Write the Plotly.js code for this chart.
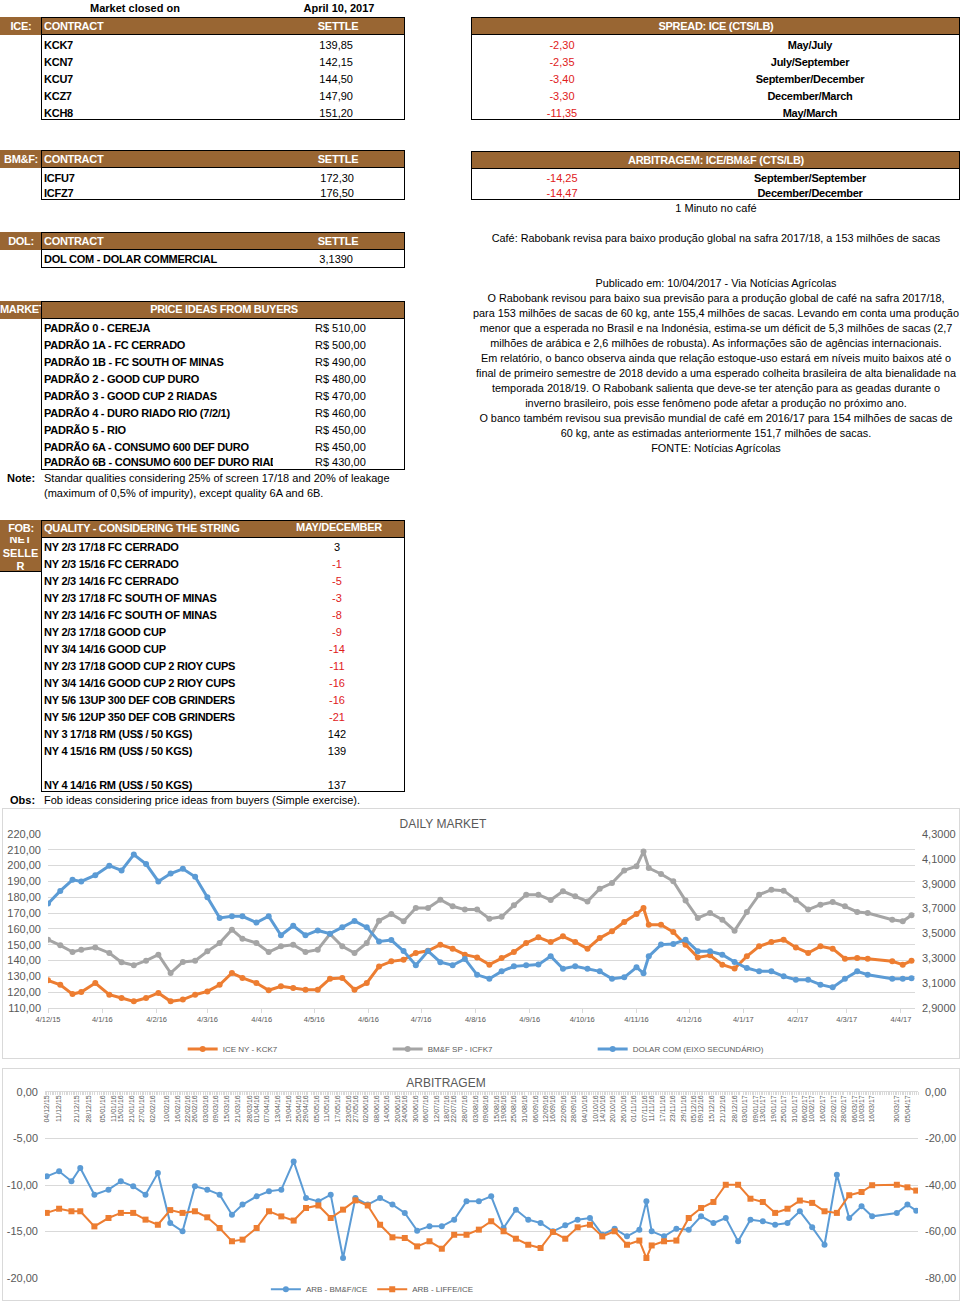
<!DOCTYPE html>
<html>
<head>
<meta charset="utf-8">
<script src="https://cdn.plot.ly/plotly-3.0.1.min.js"></script>
<style>
  body { margin: 0; background: #fff; font-family: "Liberation Sans", Arial, sans-serif; }
  #page { position: relative; width: 961px; height: 1303px; overflow: hidden; }
  .t { position: absolute; white-space: nowrap; font-size: 11px; line-height: 14px; height: 14px; }
  .r { position: absolute; box-sizing: border-box; }
  .chart { position: absolute; border: 1px solid #d9d9d9; box-sizing: border-box; }
</style>
</head>
<body>
<div id="page">
  <div id="dailyChart" class="chart" style="left:2px;top:808px;width:958px;height:251px"></div>
  <div id="arbChart" class="chart" style="left:2px;top:1068px;width:958px;height:233px"></div>
</div>
<script>
// ---- tabelas ----
const iceContracts = ['KCK7', 'KCN7', 'KCU7', 'KCZ7', 'KCH8'];
const iceSettles = [139.85, 142.15, 144.50, 147.90, 151.20];
const spreadValues = [-2.30, -2.35, -3.40, -3.30, -11.35];
const spreadLabels = ['May/July', 'July/September', 'September/December', 'December/March', 'May/March'];
const bmfContracts = ['ICFU7', 'ICFZ7'];
const bmfSettles = [172.30, 176.50];
const arbValues = [-14.25, -14.47];
const arbLabels = ['September/September', 'December/December'];
const dolContracts = ['DOL COM - DOLAR COMMERCIAL'];
const dolSettles = [3.1390];
const padroes = [
    'PADRÃO 0 - CEREJA', 'PADRÃO 1A - FC CERRADO', 'PADRÃO 1B - FC SOUTH OF MINAS',
    'PADRÃO 2 - GOOD CUP DURO', 'PADRÃO 3 - GOOD CUP 2 RIADAS', 'PADRÃO 4 - DURO RIADO RIO (7/2/1)',
    'PADRÃO 5 - RIO', 'PADRÃO 6A - CONSUMO 600 DEF DURO', 'PADRÃO 6B - CONSUMO 600 DEF DURO RIADO'
];
const padraoPrices = [510, 500, 490, 480, 470, 460, 450, 450, 430];
const fobQualities = [
    'NY 2/3 17/18 FC CERRADO', 'NY 2/3 15/16 FC CERRADO', 'NY 2/3 14/16 FC CERRADO',
    'NY 2/3 17/18 FC SOUTH OF MINAS', 'NY 2/3 14/16 FC SOUTH OF MINAS', 'NY 2/3 17/18 GOOD CUP',
    'NY 3/4 14/16 GOOD CUP', 'NY 2/3 17/18 GOOD CUP 2 RIOY CUPS', 'NY 3/4 14/16 GOOD CUP 2 RIOY CUPS',
    'NY 5/6 13UP 300 DEF COB GRINDERS', 'NY 5/6 12UP 350 DEF COB GRINDERS', 'NY 3 17/18 RM (US$ / 50 KGS)',
    'NY 4 15/16 RM (US$ / 50 KGS)', '', 'NY 4 14/16 RM (US$ / 50 KGS)'
];
const fobValues = [3, -1, -5, -3, -8, -9, -14, -11, -16, -16, -21, 142, 139, null, 137];
const newsTitle = 'Café: Rabobank revisa para baixo produção global na safra 2017/18, a 153 milhões de sacas';
const newsLines = [
    'Publicado em: 10/04/2017  -  Via Notícias Agrícolas',
    'O Rabobank revisou para baixo sua previsão para a produção global de café na safra 2017/18,',
    'para 153 milhões de sacas de 60 kg, ante 155,4 milhões de sacas. Levando em conta uma produção',
    'menor que a esperada no Brasil e na Indonésia, estima-se um déficit de 5,3 milhões de sacas (2,7',
    'milhões de arábica e 2,6 milhões de robusta). As informações são de agências internacionais.',
    'Em relatório, o banco observa ainda que relação estoque-uso estará em níveis muito baixos até o',
    'final de primeiro semestre de 2018 devido a uma esperado colheita brasileira de alta bienalidade na',
    'temporada 2018/19. O Rabobank salienta que deve-se ter atenção para as geadas durante o',
    'inverno brasileiro, pois esse fenômeno pode afetar a produção no próximo ano.',
    'O banco também revisou sua previsão mundial de café em 2016/17 para 154 milhões de sacas de',
    '60 kg, ante as estimadas anteriormente 151,7 milhões de sacas.',
    'FONTE: Notícias Agrícolas'
];

// ---- séries (leitura semanal do gráfico) ----
const dates = [
    '2015-12-04', '2015-12-11', '2015-12-18', '2015-12-23', '2015-12-31', '2016-01-08', '2016-01-15', '2016-01-22', '2016-01-29', '2016-02-05',
    '2016-02-12', '2016-02-19', '2016-02-26', '2016-03-04', '2016-03-11', '2016-03-18', '2016-03-24', '2016-04-01', '2016-04-08', '2016-04-15',
    '2016-04-22', '2016-04-29', '2016-05-06', '2016-05-13', '2016-05-20', '2016-05-27', '2016-06-03', '2016-06-10', '2016-06-17', '2016-06-24',
    '2016-07-01', '2016-07-08', '2016-07-15', '2016-07-22', '2016-07-29', '2016-08-05', '2016-08-12', '2016-08-19', '2016-08-26', '2016-09-02',
    '2016-09-09', '2016-09-16', '2016-09-23', '2016-09-30', '2016-10-07', '2016-10-14', '2016-10-21', '2016-10-28', '2016-11-04', '2016-11-08',
    '2016-11-11', '2016-11-18', '2016-11-25', '2016-12-02', '2016-12-09', '2016-12-16', '2016-12-23', '2016-12-30', '2017-01-06', '2017-01-13',
    '2017-01-20', '2017-01-27', '2017-02-03', '2017-02-10', '2017-02-17', '2017-02-24', '2017-03-03', '2017-03-10', '2017-03-16', '2017-03-30',
    '2017-04-05', '2017-04-10'
];
const iceKC = [
    127.5, 124.7, 118.8, 120.1, 125.8, 118.4, 116.3, 114.2, 116.3, 119.5,
    114.2, 115.3, 118.4, 120.5, 124.7, 132.1, 129.0, 125.8, 121.2, 123.7,
    122.6, 121.6, 121.6, 128.5, 129.0, 121.6, 125.8, 136.3, 139.5, 140.5,
    144.8, 146.2, 150.0, 147.5, 143.7, 142.0, 137.4, 141.6, 145.4, 151.1,
    154.7, 151.7, 155.3, 151.7, 147.5, 154.2, 158.5, 164.4, 169.4, 173.2,
    162.7, 162.7, 158.0, 150.0, 142.0, 143.3, 137.4, 134.9, 142.7, 149.0,
    151.7, 153.2, 148.3, 144.8, 149.0, 147.5, 141.2, 141.6, 141.2, 139.5,
    137.4, 139.85
];
const bmfKC = [
    153.2, 149.6, 145.4, 146.9, 148.3, 144.8, 138.9, 137.0, 139.9, 143.7,
    132.1, 139.1, 139.9, 145.8, 151.1, 159.5, 153.8, 151.1, 145.4, 149.0,
    150.0, 145.4, 146.9, 156.8, 149.0, 144.8, 151.1, 165.2, 169.4, 164.8,
    173.2, 173.2, 178.5, 174.3, 172.2, 172.2, 166.5, 167.7, 174.9, 181.6,
    181.6, 178.3, 183.8, 180.6, 177.4, 185.4, 189.0, 197.0, 199.6, 209.0,
    198.5, 194.7, 190.1, 177.9, 166.9, 170.1, 165.8, 158.9, 170.7, 181.6,
    184.8, 184.2, 178.5, 172.2, 175.3, 177.0, 174.3, 170.7, 170.0, 165.8,
    164.8, 168.6
];
const dolar = [
    3.740, 3.842, 3.931, 3.918, 3.969, 4.045, 4.007, 4.135, 4.058, 3.918,
    3.982, 4.020, 3.956, 3.791, 3.625, 3.638, 3.638, 3.587, 3.638, 3.485,
    3.562, 3.485, 3.524, 3.498, 3.549, 3.600, 3.549, 3.435, 3.447, 3.358,
    3.244, 3.358, 3.269, 3.244, 3.295, 3.167, 3.136, 3.195, 3.235, 3.243,
    3.249, 3.316, 3.216, 3.235, 3.216, 3.195, 3.136, 3.147, 3.227, 3.180,
    3.316, 3.410, 3.415, 3.450, 3.356, 3.356, 3.329, 3.270, 3.222, 3.195,
    3.195, 3.155, 3.128, 3.128, 3.088, 3.066, 3.136, 3.195, 3.168, 3.136,
    3.136, 3.139
];
const arbBmf = [
    -9.07, -8.53, -9.61, -8.17, -11.04, -10.50, -9.61, -10.14, -11.04, -8.71,
    -14.09, -14.98, -10.14, -10.50, -11.04, -13.19, -12.11, -11.22, -10.68, -10.50,
    -7.46, -11.40, -11.76, -11.04, -17.85, -11.40, -12.11, -11.40, -12.11, -13.01,
    -14.91, -14.44, -14.44, -13.73, -11.76, -11.76, -11.22, -14.62, -12.65, -13.73,
    -14.09, -14.98, -14.34, -13.73, -13.55, -15.34, -14.70, -15.52, -14.80, -11.76,
    -14.98, -15.52, -14.70, -14.80, -13.37, -14.09, -13.55, -16.06, -13.73, -13.91,
    -14.27, -14.09, -12.83, -14.55, -16.42, -8.89, -13.55, -12.29, -13.37, -13.01,
    -12.11, -12.76
];
const arbLiffe = [
    -52.0, -50.2, -51.3, -51.3, -57.8, -54.2, -52.0, -52.0, -54.9, -57.1,
    -50.8, -52.0, -51.3, -53.9, -58.5, -64.2, -63.5, -58.5, -51.3, -53.5,
    -55.3, -49.9, -48.8, -54.2, -50.6, -46.6, -48.8, -57.1, -62.5, -62.8,
    -66.4, -64.2, -67.4, -61.4, -61.4, -59.2, -55.6, -59.9, -63.1, -65.7,
    -67.1, -60.2, -63.1, -58.2, -57.1, -62.1, -59.9, -65.7, -63.9, -71.4,
    -66.0, -64.2, -63.9, -54.2, -49.9, -47.3, -39.9, -39.9, -45.9, -47.3,
    -52.0, -50.2, -46.7, -47.7, -51.3, -52.0, -44.4, -43.0, -40.1, -39.9,
    -41.0, -42.4
];
const arbTickLabels = [
    '04/12/15', '11/12/15', '21/12/15', '28/12/15', '05/01/16', '11/01/16', '15/01/16', '21/01/16', '27/01/16', '02/02/16',
    '10/02/16', '16/02/16', '22/02/16', '26/02/16', '03/03/16', '09/03/16', '15/03/16', '21/03/16', '28/03/16', '01/04/16',
    '07/04/16', '13/04/16', '19/04/16', '25/04/16', '29/04/16', '05/05/16', '11/05/16', '17/05/16', '23/05/16', '27/05/16',
    '02/06/16', '08/06/16', '14/06/16', '20/06/16', '24/06/16', '30/06/16', '06/07/16', '12/07/16', '18/07/16', '22/07/16',
    '28/07/16', '03/08/16', '09/08/16', '15/08/16', '19/08/16', '25/08/16', '31/08/16', '06/09/16', '12/09/16', '16/09/16',
    '22/09/16', '28/09/16', '04/10/16', '10/10/16', '14/10/16', '20/10/16', '26/10/16', '01/11/16', '07/11/16', '11/11/16',
    '17/11/16', '23/11/16', '29/11/16', '05/12/16', '09/12/16', '15/12/16', '21/12/16', '28/12/16', '03/01/17', '09/01/17',
    '13/01/17', '19/01/17', '25/01/17', '31/01/17', '06/02/17', '10/02/17', '16/02/17', '22/02/17', '28/02/17', '06/03/17',
    '10/03/17', '16/03/17', '30/03/17', '05/04/17'
];
const arbLeftTicks = [0, -5, -10, -15, -20];
const arbRightTicks = [0, -20, -40, -60, -80];

// ---- helpers ----
const page = document.getElementById('page');
const BROWN = '#996633';
const RED = '#e0201b';

function num(v, d) {
    return v.toFixed(d).replace('.', ',');
}

function txt(s, x, y, o = {}) {
    const d = document.createElement('div');
    d.className = 't';
    d.textContent = s;
    d.style.top = (y - 7) + 'px';
    if (o.size) d.style.fontSize = o.size + 'px';
    if (o.bold) d.style.fontWeight = 'bold';
    if (o.ls) d.style.letterSpacing = o.ls + 'px';
    if (o.color) d.style.color = o.color;
    if (o.align === 'center') {
        d.style.left = (x - 300) + 'px';
        d.style.width = '600px';
        d.style.textAlign = 'center';
    } else if (o.align === 'right') {
        d.style.right = (961 - x) + 'px';
    } else {
        d.style.left = x + 'px';
    }
    if (o.clip) { d.style.width = o.clip + 'px'; d.style.overflow = 'hidden'; }
    page.appendChild(d);
    return d;
}

function rect(x, y, w, h, css) {
    const d = document.createElement('div');
    d.className = 'r';
    d.style.cssText += `left:${x}px;top:${y}px;width:${w}px;height:${h}px;` + css;
    page.appendChild(d);
    return d;
}

// bloco com cabeçalho marrom e corpo com borda preta
function block(x0, x1, y0, hdrH, y1, leftCell) {
    rect(leftCell ? 0 : x0, y0, x1 - (leftCell ? 0 : x0), hdrH, `background:${BROWN}`);
    rect(x0, y0, x1 - x0, y1 - y0, 'border:1px solid #000');
    rect(x0, y0 + hdrH - 1, x1 - x0, 1, 'background:#000');
}

const W = { bold: true, color: '#fff', ls: -0.3 };
const B = { bold: true, ls: -0.25 };

// topo
txt('Market closed on', 135, 8, { align: 'center', bold: true });
txt('April 10, 2017', 339, 8, { align: 'center', bold: true });

// ICE
block(41, 405, 17, 18, 120, true);
txt('ICE:', 21, 26, { ...W, align: 'center' });
txt('CONTRACT', 44, 26, W);
txt('SETTLE', 338, 26, { ...W, align: 'center' });
iceContracts.forEach((c, i) => {
    txt(c, 44, 45 + 17 * i, B);
    txt(num(iceSettles[i], 2), 353, 45 + 17 * i, { align: 'right' });
});

// spread
block(471, 960, 17, 18, 120, false);
txt('SPREAD: ICE (CTS/LB)', 716, 26, { ...W, align: 'center' });
spreadValues.forEach((v, i) => {
    txt(num(v, 2), 562, 45 + 17 * i, { align: 'center', color: RED });
    txt(spreadLabels[i], 810, 45 + 17 * i, { ...B, align: 'center' });
});

// BM&F
block(41, 405, 150, 18, 200, true);
txt('BM&F:', 21, 159, { ...W, align: 'center' });
txt('CONTRACT', 44, 159, W);
txt('SETTLE', 338, 159, { ...W, align: 'center' });
bmfContracts.forEach((c, i) => {
    txt(c, 44, 178 + 15 * i, B);
    txt(num(bmfSettles[i], 2), 354, 178 + 15 * i, { align: 'right' });
});

// arbitragem
block(471, 960, 151, 18, 200, false);
txt('ARBITRAGEM: ICE/BM&F (CTS/LB)', 716, 160, { ...W, align: 'center' });
arbValues.forEach((v, i) => {
    txt(num(v, 2), 562, 178 + 15 * i, { align: 'center', color: RED });
    txt(arbLabels[i], 810, 178 + 15 * i, { ...B, align: 'center' });
});
txt('1 Minuto no café', 716, 208, { align: 'center' });

// DOL
block(41, 405, 232, 18, 268, true);
txt('DOL:', 21, 241, { ...W, align: 'center' });
txt('CONTRACT', 44, 241, W);
txt('SETTLE', 338, 241, { ...W, align: 'center' });
dolContracts.forEach((c, i) => {
    txt(c, 44, 259, B);
    txt(num(dolSettles[i], 4), 353, 259, { align: 'right' });
});

// notícia
txt(newsTitle, 716, 238, { align: 'center', size: 10.85 });
newsLines.forEach((l, i) => txt(l, 716, 283 + 15 * i, { align: 'center', size: 10.85 }));

// price ideas
block(41, 405, 301, 18, 470, true);
txt('MARKET', 0, 309, { ...W, clip: 41 });
txt('PRICE IDEAS FROM BUYERS', 224, 309, { ...W, align: 'center' });
padroes.forEach((p, i) => {
    const y = Math.min(328 + 17 * i, 462);
    txt(p, 44, y, { ...B, clip: 229 });
    txt('R$ ' + num(padraoPrices[i], 2), 315, y);
});
txt('Note:', 7, 478, { bold: true });
txt('Standar qualities considering 25% of screen 17/18 and 20% of leakage', 44, 478);
txt('(maximum of 0,5% of impurity), except quality 6A and 6B.', 44, 493);

// FOB
block(41, 405, 520, 18, 792, true);
txt('FOB:', 21, 528, { ...W, align: 'center' });
txt('QUALITY - CONSIDERING THE STRING', 44, 528, W);
txt('MAY/DECEMBER', 339, 527, { ...W, align: 'center' });
const net = rect(0, 537, 41, 35, `background:${BROWN};border-bottom:1px solid #000;overflow:hidden`);
net.innerHTML = '<div style="margin-top:-4px;width:41px;text-align:center;color:#fff;font-weight:bold;font-size:11px;line-height:13.5px;overflow-wrap:anywhere">NET SELLER</div>';
fobQualities.forEach((q, i) => {
    const y = 547 + 17 * i;
    if (q) txt(q, 44, y, B);
    if (fobValues[i] !== null) {
        txt(String(fobValues[i]), 337, y, { align: 'center', color: fobValues[i] < 0 ? RED : '#000' });
    }
});
txt('Obs:', 10, 800, { bold: true });
txt('Fob ideas considering price ideas from buyers (Simple exercise).', 44, 800);

// ---- gráficos ----
const chartFont = { family: '"Liberation Sans", Arial, sans-serif', size: 11, color: '#595959' };
const cfg = { displayModeBar: false, staticPlot: true };

const dailyData = [
    { x: dates, y: iceKC, name: 'ICE NY - KCK7', type: 'scatter', mode: 'lines+markers',
      line: { color: '#ED7D31', width: 3 }, marker: { color: '#ED7D31', size: 6 } },
    { x: dates, y: bmfKC, name: 'BM&F SP - ICFK7', type: 'scatter', mode: 'lines+markers',
      line: { color: '#A5A5A5', width: 3 }, marker: { color: '#A5A5A5', size: 6 } },
    { x: dates, y: dolar, name: 'DOLAR COM (EIXO SECUNDÁRIO)', type: 'scatter', mode: 'lines+markers', yaxis: 'y2',
      line: { color: '#5B9BD5', width: 3 }, marker: { color: '#5B9BD5', size: 6 } }
];

const dailyLayout = {
    width: 956, height: 249,
    margin: { l: 45, r: 44, t: 25, b: 50, autoexpand: false },
    separators: ',.',
    font: chartFont,
    paper_bgcolor: '#fff', plot_bgcolor: '#fff',
    title: { text: 'DAILY MARKET', font: { size: 12, color: '#595959' },
             xref: 'container', yref: 'container', x: 440 / 956, xanchor: 'center', y: 1 - 15 / 249, yanchor: 'middle' },
    xaxis: { type: 'date', range: ['2015-12-04', '2017-04-12'], tick0: '2015-12-04', dtick: 'M1',
             tickformat: '%-d/%-m/%y', tickfont: { size: 7.5, color: '#595959' },
             showgrid: false, showline: true, linecolor: '#d9d9d9', ticks: 'outside', ticklen: 4,
             tickcolor: '#d9d9d9', zeroline: false },
    yaxis: { range: [110, 220], tick0: 110, dtick: 10, tickformat: '.2f', gridcolor: '#d9d9d9',
             zeroline: false, ticklabelstandoff: 6 },
    yaxis2: { overlaying: 'y', side: 'right', range: [2.9, 4.3], tick0: 2.9, dtick: 0.2, tickformat: '.4f',
              showgrid: false, zeroline: false, ticklabelstandoff: 6 },
    legend: { orientation: 'h', x: 0.51, xanchor: 'center', y: -0.236, yanchor: 'middle',
              font: { size: 8, color: '#595959' }, entrywidth: 160 }
};

Plotly.newPlot('dailyChart', dailyData, dailyLayout, cfg);

// converter dd/mm/yy para data ISO
const arbTickDates = arbTickLabels.map(s => {
    const [d, m, y] = s.split('/');
    return `20${y}-${m}-${d}`;
});

const arbRange = ['2015-12-03', '2017-04-11'];

const arbData = [
    { x: dates, y: arbBmf, name: 'ARB - BM&F/ICE', type: 'scatter', mode: 'lines+markers',
      line: { color: '#5B9BD5', width: 2 }, marker: { color: '#5B9BD5', size: 6, symbol: 'circle' } },
    { x: dates, y: arbLiffe, name: 'ARB - LIFFE/ICE', type: 'scatter', mode: 'lines+markers',
      xaxis: 'x2', yaxis: 'y2',
      line: { color: '#ED7D31', width: 2 }, marker: { color: '#ED7D31', size: 6, symbol: 'square' } }
];

const arbLayout = {
    width: 956, height: 231,
    margin: { l: 42, r: 41, t: 23, b: 22, autoexpand: false },
    font: chartFont,
    paper_bgcolor: '#fff', plot_bgcolor: '#fff',
    title: { text: 'ARBITRAGEM', font: { size: 12, color: '#595959' },
             xref: 'container', yref: 'container', x: 443 / 956, xanchor: 'center', y: 1 - 14 / 231, yanchor: 'middle' },
    // eixo principal: só a linha do zero com as marcas
    xaxis: { type: 'date', side: 'top', range: arbRange, showticklabels: false,
             showgrid: false, showline: true, linecolor: '#d9d9d9', ticks: '', zeroline: false,
             minor: { ticks: 'inside', ticklen: 3, tickcolor: '#d9d9d9', tick0: '2015-12-04', dtick: 86400000, showgrid: false } },
    // eixo dos rótulos, logo abaixo da linha do zero
    xaxis2: { type: 'date', overlaying: 'x', anchor: 'free', position: 0.995, side: 'bottom', range: arbRange,
              tickmode: 'array', tickvals: arbTickDates, ticktext: arbTickLabels,
              tickangle: -90, tickfont: { size: 7, color: '#595959' },
              showgrid: false, showline: false, ticks: '', zeroline: false },
    yaxis: { range: [-20, 0], tickmode: 'array', tickvals: arbLeftTicks, ticktext: arbLeftTicks.map(v => num(v, 2)),
             gridcolor: '#d9d9d9', zeroline: false, ticklabelstandoff: 6 },
    yaxis2: { overlaying: 'y', side: 'right', range: [-80, 0], tickmode: 'array', tickvals: arbRightTicks,
              ticktext: arbRightTicks.map(v => num(v, 2)), showgrid: false, zeroline: false, ticklabelstandoff: 6 },
    legend: { orientation: 'h', x: 0.375, xanchor: 'center', y: -0.06, yanchor: 'middle',
              font: { size: 8, color: '#595959' } }
};

Plotly.newPlot('arbChart', arbData, arbLayout, cfg);
</script>
</body>
</html>
